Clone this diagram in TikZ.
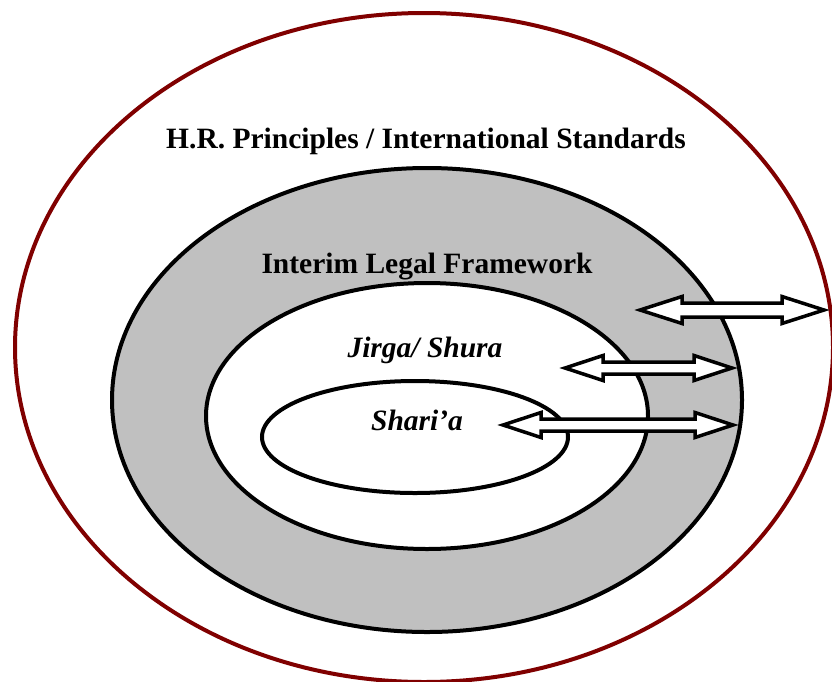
\documentclass[tikz,border=0pt]{standalone}
\usepackage{fontspec}
\setmainfont{Liberation Serif}
\definecolor{ringred}{HTML}{800000}
\definecolor{midgray}{HTML}{C0C0C0}
\tikzset{
  ringline/.style={line width=4pt},
  lbl/.style={anchor=base, inner sep=0pt, font=\fontsize{29.5}{35}\selectfont\bfseries},
  ilbl/.style={lbl, font=\fontsize{29.5}{35}\selectfont\bfseries\itshape},
  hollowarrow/.style={draw=black, fill=white, line width=3.5pt, line join=miter, miter limit=10}
}
\begin{document}
\begin{tikzpicture}[x=1pt, y=-1pt]
\useasboundingbox (0,0) rectangle (832,681);
\fill[white] (0,0) rectangle (832,681);
% rings
\draw[ringline, draw=ringred, fill=white] (424,347.5) ellipse [x radius=409, y radius=334.5];
\draw[ringline, fill=midgray] (427,400) ellipse [x radius=315, y radius=232];
\draw[ringline, fill=white] (427,416) ellipse [x radius=221, y radius=133];
\draw[ringline, fill=white] (415,437) ellipse [x radius=153, y radius=56];
% labels
\node[lbl] (hr) at (426,148) {H.R. Principles / International Standards};
\node[lbl] (ilf) at (427,273) {Interim Legal Framework};
\node[ilbl] (js) at (425,357) {Jirga/ Shura};
\node[ilbl] (sh) at (417,430) {Shari’a};
% double arrows
\draw[hollowarrow] (640,310) -- (682,296.5) -- (682,303) -- (782,303) -- (782,296.5) -- (824,310)
  -- (782,323.5) -- (782,317) -- (682,317) -- (682,323.5) -- cycle;
\draw[hollowarrow] (565,368) -- (603,355.5) -- (603,362) -- (694,362) -- (694,355.5) -- (732,368)
  -- (694,380.5) -- (694,374) -- (603,374) -- (603,380.5) -- cycle;
\draw[hollowarrow] (503,425) -- (541,412.5) -- (541,419) -- (695,419) -- (695,412.5) -- (733,425)
  -- (695,437.5) -- (695,431) -- (541,431) -- (541,437.5) -- cycle;
\end{tikzpicture}
\end{document}
